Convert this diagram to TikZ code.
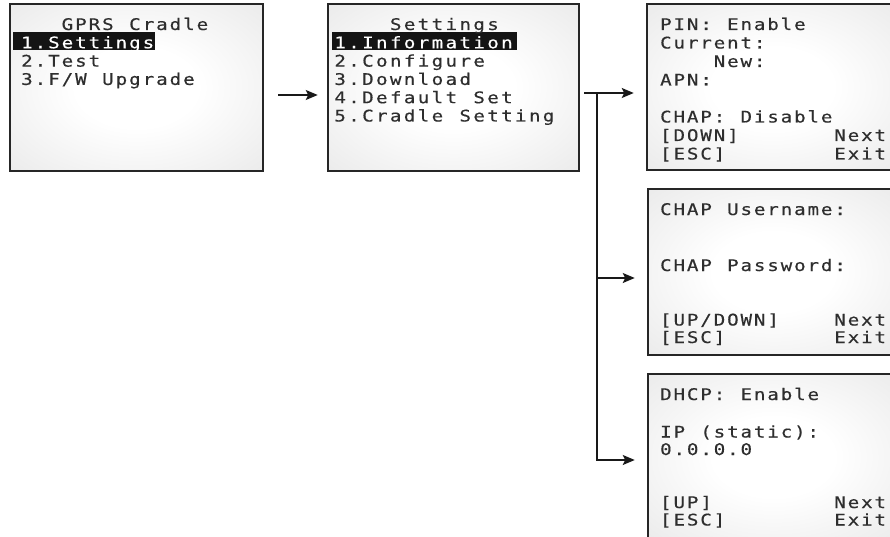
\documentclass[tikz,border=0pt]{standalone}
\usepackage{fontspec}
\newfontfamily\lcdfont[FakeStretch=1.2, FakeBold=0.4]{DejaVu Sans Mono}
\usetikzlibrary{arrows.meta}
\newlength\lcdcw
\def\lcdline#1{\lcdloop#1\relax}
\def\lcdloop#1{\ifx#1\relax\else\makebox[\lcdcw][c]{#1}\expandafter\lcdloop\fi}
\newcommand\cells[2]{\setlength\lcdcw{#1pt}\lcdline{#2}}
\pgfdeclareradialshading{lcdshade}{\pgfpoint{0bp}{0bp}}{color(0bp)=(white); color(12bp)=(white); color(45bp)=(black!11); color(75bp)=(black!17)}
\tikzset{
  screen/.style={draw=black!85, line width=2.5pt, shade, shading=lcdshade, inner sep=0pt},
  txt/.style={anchor=base west, inner sep=0pt, text=black!82, font=\lcdfont\fontsize{16}{18}\selectfont},
  hltxt/.style={txt, text=white},
  hlbar/.style={anchor=north west, fill=black!92, inner sep=0pt, minimum height=18pt},
  link/.style={line width=1.5pt, black!90},
  arr/.style={link, -{Stealth[length=12pt, width=10pt, inset=2.5pt]}}
}
\begin{document}
\begin{tikzpicture}[x=1pt, y=-1pt]
\useasboundingbox (0,0) rectangle (890,537);
\clip (0,0) rectangle (890,537);
% screens
\node[screen, minimum width=253pt, minimum height=167pt] (b1) at (136.5,87.5) {};
\node[screen, minimum width=251pt, minimum height=167pt] (b2) at (453.5,87.5) {};
\node[screen, minimum width=251pt, minimum height=166pt] (b3) at (772.5,87) {};
\node[screen, minimum width=251pt, minimum height=166pt] (b4) at (773.5,272) {};
\node[screen, minimum width=251pt, minimum height=166pt] (b5) at (773.5,457) {};
% highlight bars
\node[hlbar, minimum width=142pt] (h1) at (13,32) {};
\node[hlbar, minimum width=185pt] (h2) at (332,32) {};
% screen 1
\node[txt] (t1a) at (20,30) {\cells{13.5}{~~~GPRS~Cradle}};
\node[hltxt] (t1b) at (20,48.3) {\cells{13.5}{1.Settings}};
\node[txt] (t1c) at (20,66.6) {\cells{13.5}{2.Test}};
\node[txt] (t1d) at (20,84.9) {\cells{13.5}{3.F/W~Upgrade}};
% screen 2
\node[txt] (t2a) at (333,30) {\cells{13.9}{~~~~Settings}};
\node[hltxt] (t2b) at (333,48.3) {\cells{13.9}{1.Information}};
\node[txt] (t2c) at (333,66.6) {\cells{13.9}{2.Configure}};
\node[txt] (t2d) at (333,84.9) {\cells{13.9}{3.Download}};
\node[txt] (t2e) at (333,103.2) {\cells{13.9}{4.Default~Set}};
\node[txt] (t2f) at (333,121.5) {\cells{13.9}{5.Cradle~Setting}};
% screen 3
\node[txt] (t3a) at (659,30) {\cells{13.4}{PIN:~Enable}};
\node[txt] (t3b) at (659,48.5) {\cells{13.4}{Current:}};
\node[txt] (t3c) at (659,67) {\cells{13.4}{~~~~New:}};
\node[txt] (t3d) at (659,85.5) {\cells{13.4}{APN:}};
\node[txt] (t3e) at (659,122.5) {\cells{13.4}{CHAP:~Disable}};
\node[txt] (t3f) at (659,141) {\cells{13.4}{[DOWN]~~~~~~~Next}};
\node[txt] (t3g) at (659,159.5) {\cells{13.4}{[ESC]~~~~~~~~Exit}};
% screen 4
\node[txt] (t4a) at (659,215) {\cells{13.4}{CHAP~Username:}};
\node[txt] (t4b) at (659,271) {\cells{13.4}{CHAP~Password:}};
\node[txt] (t4c) at (659,325.5) {\cells{13.4}{[UP/DOWN]~~~~Next}};
\node[txt] (t4d) at (659,343) {\cells{13.4}{[ESC]~~~~~~~~Exit}};
% screen 5
\node[txt] (t5a) at (659,400) {\cells{13.4}{DHCP:~Enable}};
\node[txt] (t5b) at (659,437.5) {\cells{13.4}{IP~(static):}};
\node[txt] (t5c) at (659,455) {\cells{13.4}{0.0.0.0}};
\node[txt] (t5d) at (659,508) {\cells{13.4}{[UP]~~~~~~~~~Next}};
\node[txt] (t5e) at (659,525.5) {\cells{13.4}{[ESC]~~~~~~~~Exit}};
% connectors
\coordinate (y1) at (0,95);
\coordinate (sp) at (597,93);
\coordinate (y4) at (0,278);
\coordinate (y5) at (0,460);
\draw[arr, shorten <=14pt, shorten >=9pt] (b1.east |- y1) -- (b2.west |- y1);
\draw[link, shorten <=4pt] (b2.east |- sp) -- (sp);
\draw[arr, shorten >=12pt] (sp) -- (b3.west |- sp);
\draw[arr, shorten >=12pt] (sp) |- (b4.west |- y4);
\draw[arr, shorten >=12pt] (sp) |- (b5.west |- y5);
\end{tikzpicture}
\end{document}
